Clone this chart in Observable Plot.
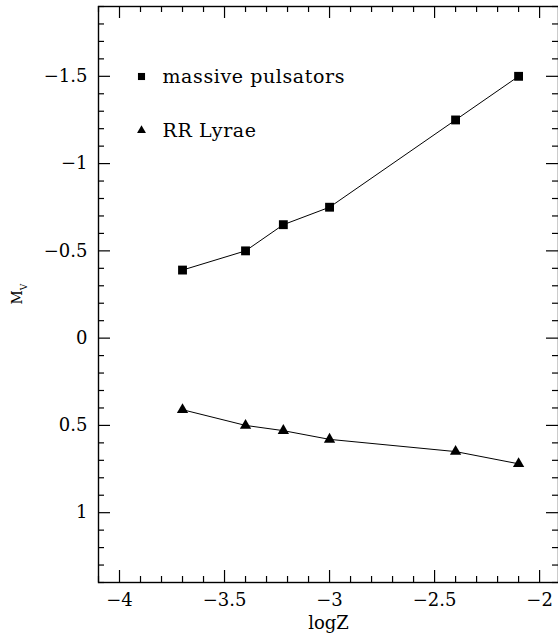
<!DOCTYPE html>
<html>
<head>
<meta charset="utf-8">
<script src="https://cdn.jsdelivr.net/npm/d3@7"></script>
<script src="https://cdn.jsdelivr.net/npm/@observablehq/plot@0.6"></script>
<style>
  html, body { margin: 0; padding: 0; background: #fff; }
  #chart svg { display: block; }
</style>
</head>
<body>
<div id="chart"></div>
<script>
// Data
const logZ = [-3.7, -3.4, -3.22, -3.0, -2.4, -2.1];
const massivePulsatorsMv = [-0.39, -0.50, -0.65, -0.75, -1.25, -1.50];
const rrLyraeMv = [0.41, 0.50, 0.53, 0.58, 0.65, 0.72];
const seriesNames = ["massive pulsators", "RR Lyrae"];
const seriesSymbols = ["square", "triangle"];
const xMajorTicks = [-4, -3.5, -3, -2.5, -2];
const yMajorTicks = [-1.5, -1, -0.5, 0, 0.5, 1];
const xLabel = "logZ";
const yLabelMain = "M";
const yLabelSub = "V";
const xDomain = [-4.1, -1.91];
const yDomain = [-1.9, 1.4];

const xMinorTicks = d3.range(-41, -18).map(v => v / 10).filter(v => !xMajorTicks.some(m => Math.abs(m - v) < 1e-9));
const yMinorTicks = d3.range(-19, 15).map(v => v / 10).filter(v => !yMajorTicks.some(m => Math.abs(m - v) < 1e-9));

const massive = logZ.map((x, i) => ({x, y: massivePulsatorsMv[i]}));
const rr = logZ.map((x, i) => ({x, y: rrLyraeMv[i]}));

const W = 558, H = 634;
const mL = 98, mR = 0, mT = 6, mB = 52;
const fw = W - mL - mR, fh = H - mT - mB;
const major = 12, minor = 6;
const fmt = d3.format("");
const font = "'DejaVu Serif', 'Liberation Serif', serif";

const tickMarks = [];
for (const [ticks, len] of [[xMajorTicks, major], [xMinorTicks, minor]]) {
  tickMarks.push(Plot.ruleX(ticks, {x: d => d, insetTop: fh - len, stroke: "#000", strokeWidth: 1.2}));
  tickMarks.push(Plot.ruleX(ticks, {x: d => d, insetBottom: fh - len, stroke: "#000", strokeWidth: 1.2}));
}
for (const [ticks, len] of [[yMajorTicks, major], [yMinorTicks, minor]]) {
  tickMarks.push(Plot.ruleY(ticks, {y: d => d, insetRight: fw - len, stroke: "#000", strokeWidth: 1.2}));
  tickMarks.push(Plot.ruleY(ticks, {y: d => d, insetLeft: fw - len, stroke: "#000", strokeWidth: 1.2}));
}

const chart = Plot.plot({
  width: W,
  height: H,
  marginLeft: mL,
  marginRight: mR,
  marginTop: mT,
  marginBottom: mB,
  style: {fontFamily: font, fontSize: "18px", color: "#000", background: "#fff"},
  x: {domain: xDomain},
  y: {domain: yDomain, reverse: true},
  marks: [
    Plot.axisX(xMajorTicks, {anchor: "bottom", tickSize: 0, tickPadding: 11, tickFormat: fmt, label: null, fontSize: 18}),
    Plot.axisY(yMajorTicks, {anchor: "left", tickSize: 0, tickPadding: 11, tickFormat: fmt, label: null, fontSize: 18}),
    ...tickMarks,
    Plot.frame({stroke: "#000", strokeWidth: 1.4}),
    Plot.line(massive, {x: "x", y: "y", stroke: "#000", strokeWidth: 1}),
    Plot.line(rr, {x: "x", y: "y", stroke: "#000", strokeWidth: 1}),
    Plot.dot(massive, {x: "x", y: "y", symbol: seriesSymbols[0], r: 5, fill: "#000", stroke: "none"}),
    Plot.dot(rr, {x: "x", y: "y", symbol: seriesSymbols[1], r: 4.2, fill: "#000", stroke: "none"}),
    ...seriesNames.flatMap((name, i) => [
      Plot.dot([name], {frameAnchor: "top-left", dx: 43, dy: 70 + i * 54, symbol: seriesSymbols[i], r: i === 0 ? 4 : 3.3, fill: "#000", stroke: "none"}),
      Plot.text([name], {frameAnchor: "top-left", dx: 64, dy: 70 + i * 54, text: d => d, textAnchor: "start", lineAnchor: "middle", fontSize: 19, fill: "#000", className: "legend-text"})
    ]),
    Plot.text([xLabel], {frameAnchor: "bottom", dy: 46, text: d => d, lineAnchor: "bottom", fontSize: 18, fill: "#000"})
  ]
});

// Y axis title with subscript
const svg = d3.select(chart);
const yt = svg.append("text")
  .attr("transform", "translate(21.5,304.5) rotate(-90)")
  .attr("text-anchor", "start")
  .attr("fill", "#000")
  .style("font-size", "14px");
yt.append("tspan").text(yLabelMain);
yt.append("tspan").attr("baseline-shift", "sub").style("font-size", "9px").text(yLabelSub);

svg.selectAll("text").style("font-family", font);
svg.selectAll(".legend-text text").style("letter-spacing", "0.6px");

document.getElementById("chart").appendChild(chart);
</script>
</body>
</html>
